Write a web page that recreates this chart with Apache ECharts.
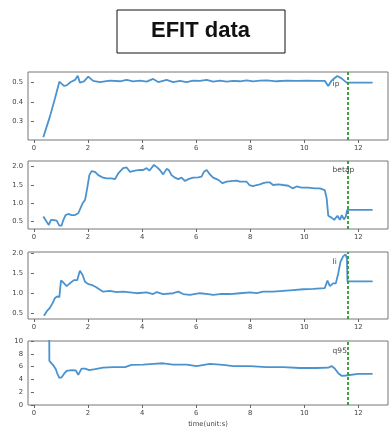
<!DOCTYPE html>
<html>
<head>
<meta charset="utf-8">
<script src="https://cdn.jsdelivr.net/npm/echarts@6/dist/echarts.min.js"></script>
<style>
  html, body { margin: 0; padding: 0; background: #fff; }
  #chart { width: 390px; height: 429px; }
</style>
</head>
<body>
<div id="chart"></div>
<script>
// EFIT equilibrium traces: plasma current, poloidal beta, internal inductance, q95
const xTicks = [0, 2, 4, 6, 8, 10, 12];
const markerTime = 11.6;

const ipTime = [0.345, 0.59, 0.78, 0.94, 1.0, 1.11, 1.21, 1.36, 1.52, 1.62, 1.70, 1.85, 2.01, 2.19, 2.44,
  2.81, 3.18, 3.43, 3.67, 3.92, 4.17, 4.41, 4.60, 4.91, 5.15, 5.40, 5.65, 5.89, 6.14, 6.39, 6.63,
  6.88, 7.13, 7.37, 7.62, 7.87, 8.11, 8.36, 8.61, 8.98, 9.35, 9.72, 10.09, 10.46, 10.76, 10.89,
  11.01, 11.22, 11.38, 11.57, 12.0, 12.53];
const ipValues = [0.217, 0.324, 0.419, 0.505, 0.510, 0.483, 0.486, 0.503, 0.514, 0.536, 0.500, 0.507, 0.531, 0.509, 0.503,
  0.510, 0.507, 0.514, 0.507, 0.510, 0.505, 0.519, 0.503, 0.514, 0.503, 0.509, 0.503, 0.510, 0.509, 0.514, 0.505,
  0.510, 0.505, 0.509, 0.507, 0.512, 0.507, 0.510, 0.512, 0.507, 0.510, 0.509, 0.510, 0.509, 0.509, 0.483,
  0.510, 0.534, 0.522, 0.500, 0.500, 0.500];

const betapTime = [0.345, 0.47, 0.55, 0.63, 0.74, 0.84, 0.94, 1.02, 1.09, 1.17, 1.27, 1.39, 1.52, 1.64, 1.70,
  1.80, 1.89, 1.97, 2.05, 2.13, 2.26, 2.38, 2.56, 2.69, 2.87, 3.0, 3.12, 3.30, 3.43, 3.55, 3.74, 3.92,
  4.04, 4.17, 4.27, 4.44, 4.56, 4.66, 4.78, 4.91, 4.99, 5.09, 5.22, 5.34, 5.46, 5.59, 5.71, 5.89, 6.08,
  6.20, 6.29, 6.39, 6.51, 6.63, 6.82, 6.98, 7.13, 7.37, 7.50, 7.62, 7.87, 7.97, 8.11, 8.24, 8.36, 8.48,
  8.61, 8.73, 8.85, 9.04, 9.22, 9.41, 9.57, 9.72, 9.90, 10.15, 10.39, 10.58, 10.76, 10.83, 10.89, 11.01,
  11.11, 11.23, 11.32, 11.39, 11.47, 11.54, 11.59, 12.0, 12.53];
const betapValues = [0.64, 0.50, 0.41, 0.55, 0.54, 0.53, 0.39, 0.39, 0.55, 0.68, 0.71, 0.68, 0.68, 0.73, 0.76,
  1.00, 1.09, 1.41, 1.77, 1.88, 1.86, 1.77, 1.70, 1.68, 1.68, 1.66, 1.82, 1.96, 1.98, 1.86, 1.89, 1.91,
  1.91, 1.96, 1.89, 2.05, 1.98, 1.91, 1.79, 1.94, 1.91, 1.77, 1.70, 1.66, 1.70, 1.61, 1.66, 1.70, 1.71,
  1.73, 1.86, 1.91, 1.79, 1.70, 1.64, 1.55, 1.59, 1.61, 1.62, 1.59, 1.59, 1.50, 1.47, 1.50, 1.52, 1.55,
  1.57, 1.57, 1.50, 1.52, 1.50, 1.48, 1.41, 1.46, 1.43, 1.43, 1.41, 1.41, 1.36, 1.14, 0.66, 0.61,
  0.55, 0.66, 0.55, 0.68, 0.56, 0.64, 0.82, 0.82, 0.82];

const liTime = [0.37, 0.47, 0.59, 0.69, 0.78, 0.86, 0.94, 1.0, 1.09, 1.21, 1.33, 1.48, 1.60, 1.70, 1.80, 1.89,
  2.01, 2.13, 2.26, 2.42, 2.56, 2.81, 3.06, 3.30, 3.55, 3.80, 4.17, 4.41, 4.54, 4.78, 5.15, 5.34, 5.52,
  5.77, 6.14, 6.45, 6.63, 6.88, 7.25, 7.62, 7.99, 8.24, 8.48, 8.85, 9.22, 9.59, 9.96, 10.33, 10.76, 10.86,
  10.95, 11.07, 11.17, 11.26, 11.34, 11.44, 11.53, 11.58, 11.60, 12.0, 12.53];
const liValues = [0.43, 0.54, 0.63, 0.75, 0.88, 0.92, 0.90, 1.32, 1.27, 1.18, 1.25, 1.33, 1.33, 1.57, 1.46, 1.29,
  1.23, 1.21, 1.17, 1.10, 1.04, 1.06, 1.03, 1.04, 1.02, 1.00, 1.02, 0.98, 1.03, 0.98, 1.00, 1.04, 0.98,
  0.96, 1.00, 0.98, 0.96, 0.98, 0.98, 1.00, 1.02, 1.00, 1.04, 1.04, 1.06, 1.08, 1.10, 1.11, 1.13, 1.32,
  1.18, 1.25, 1.25, 1.50, 1.79, 1.93, 1.98, 1.88, 1.30, 1.30, 1.30];

const q95Time = [0.56, 0.57, 0.59, 0.72, 0.81, 0.86, 0.94, 1.02, 1.11, 1.21, 1.39, 1.55, 1.64, 1.70, 1.76, 1.89,
  2.05, 2.26, 2.56, 2.93, 3.37, 3.61, 4.04, 4.41, 4.78, 5.15, 5.65, 6.02, 6.51, 7.0, 7.37, 7.99, 8.61,
  9.22, 9.84, 10.46, 10.89, 11.01, 11.13, 11.26, 11.38, 11.54, 11.59, 12.0, 12.53];
const q95Values = [16.0, 6.9, 6.67, 6.18, 5.59, 4.95, 4.22, 4.31, 4.85, 5.34, 5.44, 5.39, 4.71, 4.95, 5.69, 5.69,
  5.44, 5.59, 5.83, 5.93, 5.93, 6.27, 6.32, 6.42, 6.52, 6.32, 6.32, 6.08, 6.42, 6.27, 6.08, 6.08, 5.93,
  5.93, 5.78, 5.78, 5.83, 6.08, 5.69, 4.95, 4.56, 4.61, 4.85, 4.85, 4.85];

const panelNames = ['ip', 'betap', 'li', 'q95'];
const panelLabelAt = [[11.05, 0.493], [11.05, 1.914], [11.05, 1.78], [11.05, 8.5]];
const yRanges = [[0.203, 0.555], [0.30, 2.155], [0.35, 2.04], [0, 10]];
const yTicks = [[0.3, 0.4, 0.5], [0.5, 1.0, 1.5, 2.0], [0.5, 1.0, 1.5, 2.0], [0, 2, 4, 6, 8, 10]];
const yDecimals = [1, 1, 1, 0];

const seriesData = [
  ipTime.map((t, i) => [t, ipValues[i]]),
  betapTime.map((t, i) => [t, betapValues[i]]),
  liTime.map((t, i) => [t, liValues[i]]),
  q95Time.map((t, i) => [t, q95Values[i]])
];

const FONT = 'DejaVu Sans';
const gridTops = [72, 161, 252, 341];
const gridHeights = [68, 68, 67, 68];

const chart = echarts.init(document.getElementById('chart'), null, { renderer: 'canvas' });

const grids = gridTops.map((top, i) => ({
  left: 28, top: top, width: 360, height: gridHeights[i],
  show: true, borderColor: '#777', borderWidth: 1, backgroundColor: 'transparent'
}));

const xAxes = gridTops.map((_, i) => ({
  type: 'value', gridIndex: i, min: -0.22, max: 13.1,
  axisLine: { show: false },
  splitLine: { show: false },
  axisTick: { show: true, length: 3, customValues: xTicks, lineStyle: { color: '#666' } },
  axisLabel: { show: true, customValues: xTicks, margin: 5, fontSize: 6.8, fontFamily: FONT, color: '#444' },
  name: i === 3 ? 'time(unit:s)' : '',
  nameLocation: 'middle', nameGap: 16,
  nameTextStyle: { fontSize: 6.8, fontFamily: FONT, color: '#444' }
}));

const yAxes = gridTops.map((_, i) => ({
  type: 'value', gridIndex: i, min: yRanges[i][0], max: yRanges[i][1],
  axisLine: { show: false },
  splitLine: { show: false },
  axisTick: { show: true, length: 3, customValues: yTicks[i], lineStyle: { color: '#666' } },
  axisLabel: {
    show: true, customValues: yTicks[i], margin: 5, fontSize: 6.8, fontFamily: FONT, color: '#444',
    formatter: v => Number(v).toFixed(yDecimals[i])
  }
}));

const series = seriesData.map((data, i) => ({
  type: 'line', xAxisIndex: i, yAxisIndex: i, data: data,
  showSymbol: false, clip: true, animation: false,
  lineStyle: { color: '#4a93cf', width: 1.8 },
  markLine: {
    silent: true, symbol: 'none', animation: false,
    label: { show: false },
    lineStyle: { color: '#2a9a2a', width: 1.8, type: [3, 2] },
    data: [{ xAxis: markerTime }]
  },
  markPoint: {
    silent: true, animation: false,
    symbol: 'circle', symbolSize: 0,
    label: {
      show: true, position: 'right', distance: 0,
      formatter: panelNames[i], fontSize: 7.5, fontFamily: FONT, color: '#444'
    },
    data: [{ coord: panelLabelAt[i] }]
  }
}));

chart.setOption({
  animation: false,
  backgroundColor: '#fff',
  grid: grids,
  xAxis: xAxes,
  yAxis: yAxes,
  series: series,
  graphic: [
    {
      type: 'rect', left: 116.5, top: 9.5,
      shape: { width: 168, height: 43 },
      style: { fill: '#fff', stroke: '#111', lineWidth: 1 }
    },
    {
      type: 'text', x: 200.5, y: 31,
      style: {
        text: 'EFIT data', fill: '#111', font: 'bold 22px "Liberation Sans", Arial, sans-serif',
        align: 'center', verticalAlign: 'middle'
      }
    }
  ]
});
</script>
</body>
</html>
